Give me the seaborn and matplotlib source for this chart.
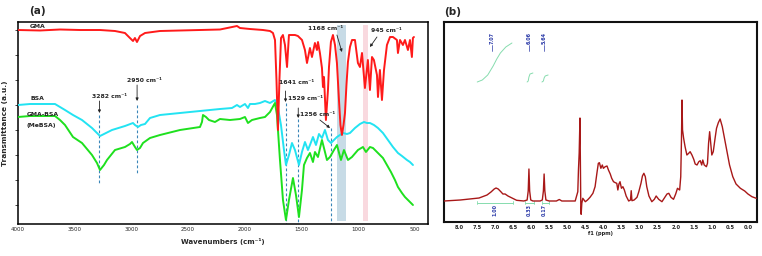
import numpy as np
import pandas as pd
import seaborn as sns
import matplotlib.pyplot as plt

# ---------------- FTIR data (panel a) ----------------
gma_wn = [4000, 3806, 3630, 3453, 3277, 3145, 3057, 3013, 2986, 2969, 2951, 2924, 2880, 2748, 2572,
          2395, 2219, 2069, 2043, 1955, 1840, 1778, 1752, 1734, 1721, 1708, 1695, 1681, 1664, 1646,
          1628, 1611, 1558, 1532, 1496, 1470, 1452, 1426, 1408, 1382, 1364, 1355, 1338, 1320, 1311,
          1302, 1285, 1267, 1258, 1241, 1223, 1205, 1188, 1170, 1157, 1144, 1130, 1117, 1104, 1091,
          1073, 1055, 1029, 1003, 985, 967, 941, 915, 897, 879, 862, 835, 826, 809, 791, 773, 747,
          720, 694, 659, 650, 632, 606, 588, 562, 544, 527, 518, 509]
gma_py = [30, 30.5, 29.5, 30, 30, 31, 33, 38, 41, 38, 42, 36, 33, 31, 30.5,
          30, 29.5, 26, 28, 29, 30, 31, 33, 40, 80, 130, 80, 38, 35, 45,
          67, 35, 35, 36, 40, 50, 63, 48, 57, 43, 50, 42, 53, 68, 87,
          77, 120, 90, 67, 42, 35, 45, 63, 100, 125, 135, 125, 113, 85, 62,
          47, 40, 40, 63, 67, 53, 88, 60, 90, 57, 60, 75, 97, 70, 100, 70, 45,
          37, 37, 40, 53, 40, 45, 40, 50, 40, 57, 38, 37]

bsa_px = [18, 30, 45, 55, 65, 73, 82, 92, 100, 106, 112, 125, 133, 135, 138, 141, 145, 150, 160, 180,
          200, 220, 232, 237, 240, 245, 248, 250, 255, 260, 265, 270, 275, 278, 281, 284, 286, 289,
          292, 295, 299, 302, 305, 308, 310, 313, 316, 319, 322, 325, 328, 331, 334, 337, 340, 343,
          347, 350, 355, 360, 364, 367, 370, 374, 378, 383, 388, 393, 398, 402, 407, 410, 413]
bsa_py = [105, 104, 104, 104, 110, 115, 120, 128, 136, 133, 130, 126, 123, 125, 127, 125, 124, 118, 115, 113,
          111, 109, 108, 105, 107, 104, 108, 104, 104, 103, 101, 103, 100, 108, 125, 150, 165, 155,
          143, 150, 165, 152, 142, 150, 145, 137, 145, 134, 138, 130, 140, 143, 140, 137, 135, 133,
          134, 133, 128, 124, 122, 123, 123, 125, 128, 133, 140, 147, 153, 156, 160, 162, 165]

mebsa_px = [18, 30, 45, 55, 60, 65, 73, 82, 92, 97, 100, 104, 107, 115, 125, 130, 132, 135, 137, 140,
            143, 150, 160, 180, 200, 202, 203, 206, 209, 215, 220, 230, 240, 245, 248, 252, 260, 265,
            270, 275, 277, 280, 283, 286, 289, 293, 296, 299, 302, 304, 307, 310, 313, 315, 318, 322,
            325, 327, 330, 334, 337, 341, 344, 348, 352, 358, 363, 366, 370, 373, 378, 383, 387, 391,
            395, 398, 402, 405, 408, 411, 413]
mebsa_py = [117, 116, 116, 116, 120, 125, 137, 143, 155, 163, 170, 165, 160, 150, 147, 144, 142, 147, 150, 148,
            143, 138, 135, 130, 127, 122, 115, 117, 120, 122, 119, 120, 119, 117, 123, 120, 118, 117,
            112, 103, 115, 160, 200, 220, 200, 178, 195, 217, 190, 165, 158, 153, 162, 152, 157, 140,
            152, 160, 157, 150, 145, 160, 150, 160, 157, 150, 147, 152, 147, 148, 153, 158, 165, 172,
            180, 187, 193, 197, 200, 203, 205]


def px_to_wn(px):
    return [4000 - (p - 18) * 8.816 for p in px]


def py_to_t(py):
    return [224 - p for p in py]


ftir = pd.concat([
    pd.DataFrame({"wn": gma_wn, "T": py_to_t(gma_py), "sample": "GMA"}),
    pd.DataFrame({"wn": px_to_wn(bsa_px), "T": py_to_t(bsa_py), "sample": "BSA"}),
    pd.DataFrame({"wn": px_to_wn(mebsa_px), "T": py_to_t(mebsa_py), "sample": "GMA-BSA"}),
])
ftir_colors = {"GMA": "#ff1a1a", "BSA": "#22e3f2", "GMA-BSA": "#1ee01e"}

peak_lines = {3282: (109, 39), 2950: (119, 51), 1641: (121, 0), 1529: (105, 0), 1240: (96, 0)}

# ---------------- NMR data (panel b) ----------------
nmr_ppm = [8.41, 8.19, 7.96, 7.69, 7.44, 7.22, 7.11, 7.02, 6.97, 6.91, 6.83, 6.78, 6.72, 6.64, 6.53,
           6.40, 6.20, 6.11, 6.08, 6.06, 6.04, 6.01, 5.95, 5.75, 5.69, 5.66, 5.64, 5.62, 5.59, 5.50,
           5.30, 5.22, 5.15, 4.85, 4.78, 4.708, 4.69, 4.67, 4.648, 4.634, 4.625, 4.615, 4.597, 4.57,
           4.50, 4.44, 4.37, 4.29, 4.23, 4.18, 4.14, 4.11, 4.07, 4.03, 4.00, 3.95, 3.90, 3.86, 3.81,
           3.77, 3.72, 3.67, 3.63, 3.60, 3.57, 3.54, 3.50, 3.46, 3.42, 3.37, 3.30, 3.25, 3.23, 3.21,
           3.15, 3.07, 3.02, 2.96, 2.92, 2.88, 2.84, 2.80, 2.74, 2.66, 2.59, 2.54, 2.47, 2.38, 2.32,
           2.24, 2.19, 2.13, 2.06, 2.00, 1.95, 1.89, 1.86, 1.84, 1.825, 1.81, 1.78, 1.74, 1.69, 1.64,
           1.60, 1.55, 1.50, 1.46, 1.41, 1.36, 1.32, 1.28, 1.25, 1.21, 1.15, 1.12, 1.09, 1.06, 1.03,
           1.00, 0.96, 0.91, 0.87, 0.82, 0.77, 0.71, 0.66, 0.58, 0.51, 0.42, 0.33, 0.21, 0.09, 0.0,
           -0.11, -0.23]
nmr_int = [0, 0.5, 1, 2, 3, 6, 9, 12, 13, 12, 9, 7, 7, 5, 3,
           0.7, 0, 1, 10, 32, 10, 1, 0, 0, 1, 10, 27, 10, 1, 0,
           0, 1.5, 0, 0, 0, 9.3, 31, 47.7, 83, 31, -5.7, -13.3, -2.3, 2.7,
           -0.7, 1, 3.7, 7.7, 14.3, 27.7, 37.7, 38.3, 32.7, 36, 32.7, 34.3, 35, 31, 27,
           22.7, 19.3, 18.3, 17.7, 11, 17, 19.3, 12.7, 14.3, 11, 5, 0, 1, 10.3, 0.3,
           1, 3.7, 9.3, 17.7, 25, 27.7, 24.3, 14.3, 5, -0.7, 1.7, 5, 1.7, -0.7, 2.7,
           7, 7.7, 3.7, 1.7, 7, 12.7, 11, 24.3, 61, 101, 71, 62.7, 54.3, 46, 47.7,
           49.3, 46, 41.7, 37, 36, 39.3, 40.3, 36, 41, 36, 34.3, 37.7, 57.7, 69.3, 57.7,
           46, 49.3, 62.7, 72.7, 78.3, 82, 74.3, 64.3, 49.3, 36, 24.3, 17, 12.7, 10, 7,
           4.3, 2.7]

integral_ranges = [(7.49, 6.50), (6.17, 5.92), (5.71, 5.50)]
integral_values = ["1.00", "0.33", "0.17"]
peak_labels = [7.07, 6.06, 5.64]
int1_ppm = [7.49, 7.35, 7.2, 7.05, 6.95, 6.85, 6.7, 6.53]
int1_val = [119, 121, 126, 135, 142, 148, 154, 158]
int2_ppm = [6.11, 6.08, 6.06, 6.03, 5.95]
int2_val = [119, 120, 124, 127, 128]
int3_ppm = [5.70, 5.66, 5.64, 5.61, 5.53]
int3_val = [119, 120, 123, 125, 126]

nmr = pd.DataFrame({"ppm": nmr_ppm, "I": nmr_int})

sns.set_style("white")
plt.rcParams["font.family"] = ["DejaVu Sans"]

fig = plt.figure(figsize=(7.62, 2.56), dpi=100)
ax = fig.add_axes([18 / 762, 32 / 256, 410 / 762, 202 / 256])
ax2 = fig.add_axes([444 / 762, 34 / 256, 313 / 762, 200 / 256])

# ---- panel a ----
ax.axvspan(1188, 1108, ymin=0.015, ymax=0.985, color="#b9d3e0", alpha=0.8, lw=0, zorder=0)
ax.axvspan(955, 910, ymin=0.015, ymax=0.985, color="#f9d5dc", alpha=0.9, lw=0, zorder=0)
for wn, (y0, y1) in peak_lines.items():
    ax.plot([wn, wn], [y0, y1], color="#3a86b8", lw=0.8, ls=(0, (2.5, 2)), zorder=1)

# GMA last so the red trace sits on top, as in the original
sns.lineplot(data=ftir, x="wn", y="T", hue="sample", hue_order=["BSA", "GMA-BSA", "GMA"],
             palette=ftir_colors, estimator=None, linewidth=1.4, legend=False, ax=ax, zorder=3)

ax.set_xlim(4000, 385)
ax.set_ylim(0, 202)
ax.set_xticks([4000, 3500, 3000, 2500, 2000, 1500, 1000, 500])
ax.set_yticks([19, 44, 69, 94, 119, 144, 169, 194])
ax.set_yticklabels([])
ax.tick_params(axis="x", length=0, pad=2.5, labelsize=4)
ax.tick_params(axis="y", length=2, width=0.6, direction="out", left=True)
ax.set_xlabel("Wavenumbers (cm\u207b\u00b9)", fontsize=5, fontweight="bold", labelpad=4)
ax.set_ylabel("Transmittance (a.u.)", fontsize=5.3, fontweight="bold", labelpad=2)
for s in ax.spines.values():
    s.set_color("black")
    s.set_linewidth(1.1)

fs = 4.4
ax.text(3894, 198, "GMA", fontsize=fs, fontweight="bold", va="center", color="#222222")
ax.text(3894, 125, "BSA", fontsize=fs, fontweight="bold", va="center", color="#222222")
ax.text(3921, 109, "GMA-BSA", fontsize=fs, fontweight="bold", va="center", color="#222222")
ax.text(3921, 98, "(MeBSA)", fontsize=fs, fontweight="bold", va="center", color="#222222")

arrow = dict(arrowstyle="-|>", color="#222222", lw=0.6, mutation_scale=4, shrinkA=0, shrinkB=0)
ax.text(3348, 128, "3282 cm\u207b\u00b9", fontsize=fs, fontweight="bold", va="center")
ax.annotate("", xy=(3282, 111), xytext=(3282, 123), arrowprops=arrow)
ax.text(3039, 144, "2950 cm\u207b\u00b9", fontsize=fs, fontweight="bold", va="center")
ax.annotate("", xy=(2950, 123), xytext=(2950, 139), arrowprops=arrow)
ax.text(1699, 141, "1641 cm\u207b\u00b9", fontsize=fs, fontweight="bold", va="center")
ax.annotate("", xy=(1641, 122), xytext=(1641, 133), arrowprops=arrow)
ax.text(1620, 126, "1529 cm\u207b\u00b9", fontsize=fs, fontweight="bold", va="center")
ax.annotate("", xy=(1529, 106), xytext=(1529, 116), arrowprops=arrow)
ax.text(1514, 109, "1256 cm\u207b\u00b9", fontsize=fs, fontweight="bold", va="center")
ax.annotate("", xy=(1249, 96), xytext=(1338, 104), arrowprops=arrow)
ax.text(1285, 196, "1168 cm\u207b\u00b9", fontsize=fs, fontweight="bold", va="center", ha="center")
ax.annotate("", xy=(1144, 172), xytext=(1188, 189), arrowprops=arrow)
ax.text(888, 194, "945 cm\u207b\u00b9", fontsize=fs, fontweight="bold", va="center")
ax.annotate("", xy=(897, 177), xytext=(835, 187), arrowprops=arrow)

# ---- panel b ----
sns.lineplot(data=nmr, x="ppm", y="I", color="#a81818", linewidth=1.0, estimator=None,
             ax=ax2, zorder=3)
green = "#86dcae"
sns.lineplot(x=int1_ppm, y=int1_val, color=green, linewidth=0.7, estimator=None, ax=ax2)
sns.lineplot(x=int2_ppm, y=int2_val, color=green, linewidth=0.7, estimator=None, ax=ax2)
sns.lineplot(x=int3_ppm, y=int3_val, color=green, linewidth=0.7, estimator=None, ax=ax2)
for (a, b), val, pk in zip(integral_ranges, integral_values, peak_labels):
    ax2.plot([a, b], [-1.5, -1.5], color=green, lw=0.7, zorder=2)
    ax2.plot([a, a], [-3, 0], color=green, lw=0.6)
    ax2.plot([b, b], [-3, 0], color=green, lw=0.6)
    mid = (a + b) / 2 if val == "1.00" else pk
    ax2.text(mid, -9, val, rotation=90, fontsize=3.5, fontweight="bold", color="#2b3aa8",
             ha="center", va="center")
    ax2.text(pk, 163, f"{pk:.2f}", rotation=90, fontsize=3.5, fontweight="bold", color="#2b3aa8",
             ha="center", va="center")
    ax2.plot([pk, pk], [150, 156], color="#2b3aa8", lw=0.5)

ax2.set_xlim(8.41, -0.25)
ax2.set_ylim(-21, 179)
ax2.set_xticks(np.arange(8.0, -0.01, -0.5))
ax2.set_xticklabels([f"{t:.1f}" for t in np.arange(8.0, -0.01, -0.5)], fontweight="bold")
ax2.set_yticks([])
ax2.tick_params(axis="x", length=0, pad=2, labelsize=3.7)
ax2.set_xlabel("f1 (ppm)", fontsize=3.7, fontweight="bold", labelpad=1)
ax2.set_ylabel("")
for s in ax2.spines.values():
    s.set_color("#111111")
    s.set_linewidth(1.5)

fig.text(37 / 762, 1 - 11 / 256, "(a)", fontsize=7.5, fontweight="bold", ha="center", va="center")
fig.text(453 / 762, 1 - 12 / 256, "(b)", fontsize=7.5, fontweight="bold", ha="center", va="center")

fig.savefig("out.png", dpi=100)
plt.close(fig)
